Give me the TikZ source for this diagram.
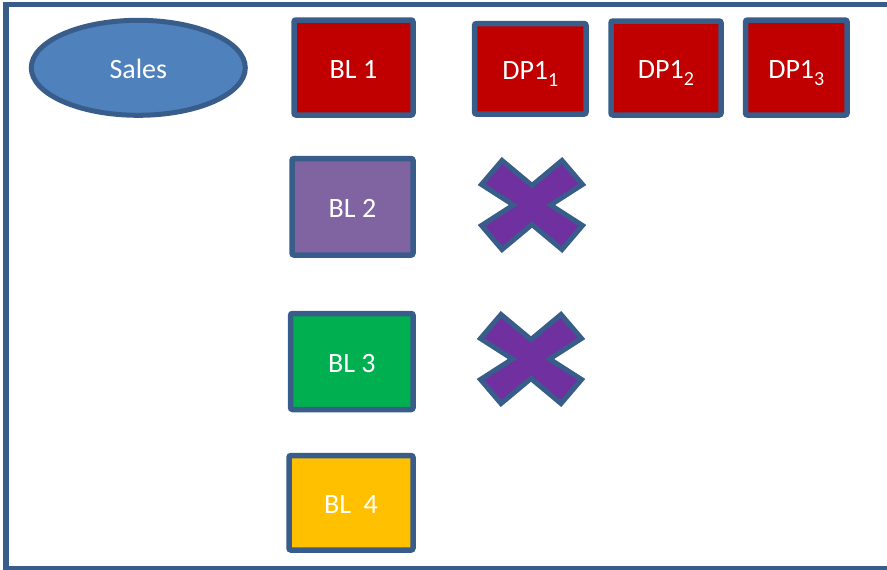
\documentclass[tikz,border=0pt]{standalone}
\usepackage{fontspec}
\setmainfont{Carlito}
\usetikzlibrary{shapes.geometric}

\definecolor{edgeblue}{HTML}{385D8A}
\definecolor{salesblue}{HTML}{4F81BD}
\definecolor{blred}{HTML}{C00000}
\definecolor{blpurple}{HTML}{8064A2}
\definecolor{blgreen}{HTML}{00B050}
\definecolor{blyellow}{HTML}{FFC000}
\definecolor{xpurple}{HTML}{7030A0}

\newcommand{\subdigit}[1]{\raisebox{-7pt}{\fontsize{20}{20}\selectfont #1}}

\tikzset{
  frameline/.style={draw=edgeblue, line width=5.5pt},
  label/.style={text=white, font=\fontsize{28}{32}\selectfont,
    text height=21pt, text depth=0pt, inner sep=0pt},
  blockbox/.style={label, rectangle, draw=edgeblue, line width=5.5pt,
    rounded corners=2pt, minimum width=#1},
  blockbox/.default=120pt,
  salesshape/.style={label, ellipse, draw=edgeblue, line width=5pt,
    fill=salesblue, minimum width=214pt, minimum height=95pt},
  crossmark/.style={draw=edgeblue, fill=xpurple, line width=5pt,
    line join=miter}
}

\newcommand{\crossat}[1]{%
  \path[crossmark] ([shift={(-30,-44.5)}]#1) -- ([shift={(0,-19.5)}]#1)
    -- ([shift={(30,-44.5)}]#1) -- ([shift={(50.5,-20.5)}]#1)
    -- ([shift={(18.5,0)}]#1) -- ([shift={(50.5,20.5)}]#1)
    -- ([shift={(30,44.5)}]#1) -- ([shift={(0,19.5)}]#1)
    -- ([shift={(-30,44.5)}]#1) -- ([shift={(-50.5,20.5)}]#1)
    -- ([shift={(-18.5,0)}]#1) -- ([shift={(-50.5,-20.5)}]#1) -- cycle;}

\begin{document}
\begin{tikzpicture}[x=1pt, y=-1pt]
  \useasboundingbox (0,0) rectangle (887,570);
  \clip (0,0) rectangle (887,570);

  % outer frame (right side runs past the page edge)
  \draw[frameline] (6,4.5) rectangle (895,568.5);

  % top row
  \node[salesshape] (sales) at (138.3,67.8) {Sales};
  \node[blockbox=119pt, minimum height=95pt, fill=blred] (bl1) at (353.5,67.5) {BL 1};
  \node[blockbox=111.5pt, minimum height=90.5pt, fill=blred] (dp11) at (530.3,68.8) {DP1\subdigit{1}};
  \node[blockbox=110pt, minimum height=94pt, fill=blred] (dp12) at (666,68) {DP1\subdigit{2}};
  \node[blockbox=101.5pt, minimum height=95pt, fill=blred] (dp13) at (796.3,67.5) {DP1\subdigit{3}};

  % remaining blocks
  \node[blockbox=121pt, minimum height=96.5pt, fill=blpurple] (bl2) at (352.5,206.8) {BL 2};
  \node[blockbox=122.5pt, minimum height=96pt, fill=blgreen] (bl3) at (351.8,361.5) {BL 3};
  \node[blockbox=124pt, minimum height=94.5pt, fill=blyellow] (bl4) at (351,502.8) {BL\ \ 4};

  % crosses
  \coordinate (crossA) at (532,205);
  \coordinate (crossB) at (531,359);
  \crossat{crossA}
  \crossat{crossB}
\end{tikzpicture}
\end{document}
